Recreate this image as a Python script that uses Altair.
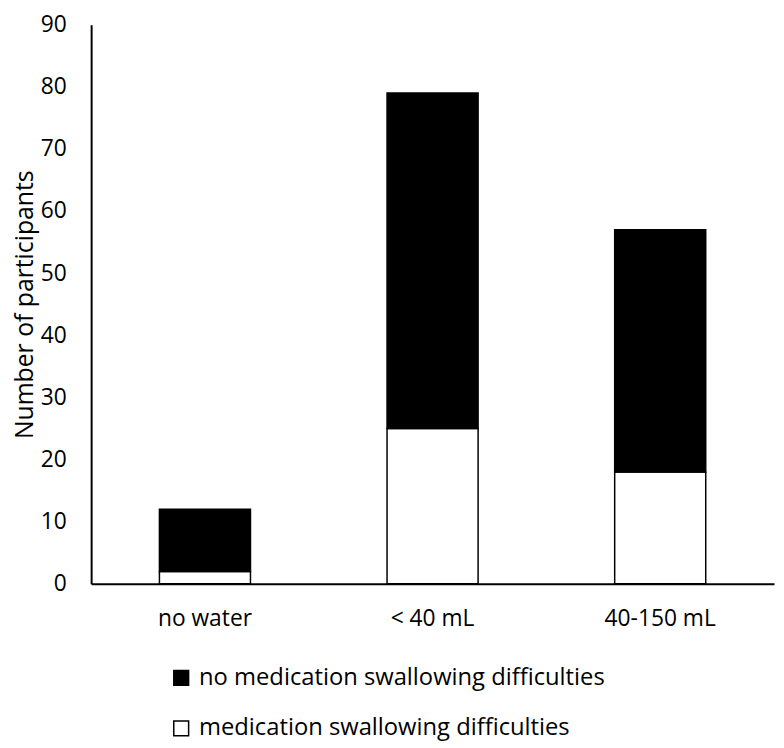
import altair as alt
import pandas as pd

categories = ["no water", "< 40 mL", "40-150 mL"]
no_difficulties = [10, 54, 39]
difficulties = [2, 25, 18]
series_names = ["no medication swallowing difficulties", "medication swallowing difficulties"]

rows = []
for c, a, b in zip(categories, no_difficulties, difficulties):
    rows.append({"category": c, "group": series_names[1], "value": b, "order": 0})
    rows.append({"category": c, "group": series_names[0], "value": a, "order": 1})
df = pd.DataFrame(rows)

font = "Open Sans"

chart = alt.Chart(df).mark_bar(stroke="black", strokeWidth=1.5).encode(
    x=alt.X("category:N", sort=categories, title=None,
            scale=alt.Scale(paddingInner=0.6, paddingOuter=0.3),
            axis=alt.Axis(labelAngle=0, labelFontSize=23, labelColor="black", labelFont=font,
                          tickSize=0, labelPadding=24, domainColor="black", domainWidth=2)),
    y=alt.Y("value:Q", stack="zero", title="Number of participants",
            scale=alt.Scale(domain=[0, 90]),
            axis=alt.Axis(values=list(range(0, 91, 10)), labelFontSize=23, labelColor="black",
                          labelFont=font, tickSize=0, labelPadding=25, grid=False,
                          domainColor="black", domainWidth=2, titleFontSize=25,
                          titleFont=font, titleFontWeight="normal", titleColor="black",
                          titlePadding=3)),
    fill=alt.Color("group:N", scale=alt.Scale(domain=series_names, range=["black", "white"]),
                   legend=alt.Legend(title=None, orient="none", legendX=79, legendY=648,
                                     padding=0, direction="vertical", symbolType="square",
                                     symbolSize=225, symbolStrokeColor="black",
                                     symbolStrokeWidth=1.5, labelFontSize=24, labelFont=font,
                                     labelColor="black", rowPadding=27, labelOffset=6,
                                     labelLimit=600)),
    order=alt.Order("order:Q"),
).properties(
    width=690, height=565,
    autosize=alt.AutoSizeParams(type="none"),
    padding={"left": 84, "top": 13, "right": 2, "bottom": 162},
).configure_view(stroke=None).configure_axis(grid=False)

chart.save("out.html", embed_options={"renderer": "svg", "actions": False})
